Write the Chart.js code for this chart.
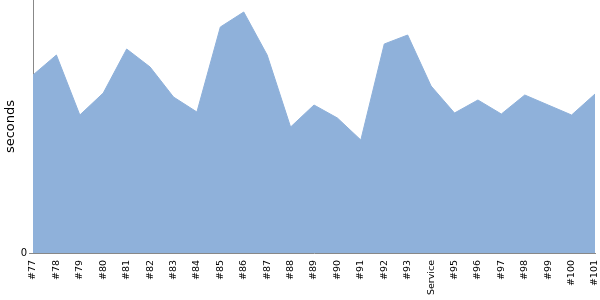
<!DOCTYPE html>
<html lang="en">
<head>
    <meta charset="UTF-8">
    <title>seconds</title>
    <script src="https://cdn.jsdelivr.net/npm/chart.js"></script>
    <style>
        html, body { margin: 0; padding: 0; background: #fff; }
        #wrap { width: 600px; height: 300px; }
    </style>
</head>
<body>
    <div id="wrap"><canvas id="myChart"></canvas></div>
    <script>
        // builds
        const labels = ['#77', '#78', '#79', '#80', '#81', '#82', '#83', '#84', '#85', '#86', '#87', '#88', '#89',
            '#90', '#91', '#92', '#93', 'Service', '#95', '#96', '#97', '#98', '#99', '#100', '#101'];
        const seconds = [178, 198, 138, 160, 204, 186, 156, 141, 226, 241, 198, 126, 148,
            135, 113, 209, 218, 167, 140, 153, 139, 158, 148, 138, 159];
        const yMax = 253;

        Chart.defaults.font.family = 'DejaVu Sans';
        Chart.defaults.color = '#000';

        const ctx = document.getElementById('myChart').getContext('2d');
        const myChart = new Chart(ctx, {
            type: 'line',
            data: {
                labels: labels,
                datasets: [{
                    label: 'seconds',
                    data: seconds,
                    fill: 'origin',
                    backgroundColor: '#8fb1da',
                    borderColor: '#8fb1da',
                    borderWidth: 1,
                    pointRadius: 0,
                    tension: 0
                }]
            },
            options: {
                responsive: true,
                maintainAspectRatio: false,
                animation: false,
                layout: { padding: { left: 3, right: 5, top: 0, bottom: 0 } },
                plugins: {
                    legend: { display: false },
                    tooltip: { enabled: false }
                },
                scales: {
                    x: {
                        offset: false,
                        grid: { display: false, drawTicks: false },
                        border: { color: '#888', width: 1 },
                        ticks: {
                            autoSkip: false,
                            maxRotation: 90,
                            minRotation: 90,
                            padding: 7,
                            font: { size: 9.5 }
                        },
                        afterFit: function (scale) {
                            scale.height = 47;
                            scale.paddingLeft = 0;
                            scale.paddingRight = 0;
                        }
                    },
                    y: {
                        min: 0,
                        max: yMax,
                        grid: {
                            display: true,
                            drawOnChartArea: false,
                            drawTicks: true,
                            tickLength: 4,
                            tickColor: function (c) { return c.tick && c.tick.value === 0 ? '#888' : 'rgba(0,0,0,0)'; }
                        },
                        border: { color: '#888', width: 1 },
                        title: { display: true, text: 'seconds', font: { size: 13 }, padding: 0 },
                        ticks: {
                            stepSize: yMax,
                            padding: 2,
                            font: { size: 10 },
                            callback: function (value) { return value === 0 ? '0' : ''; }
                        },
                        afterFit: function (scale) {
                            scale.width = 30;
                            scale.paddingTop = 0;
                            scale.paddingBottom = 0;
                        }
                    }
                }
            }
        });
    </script>
</body>
</html>
